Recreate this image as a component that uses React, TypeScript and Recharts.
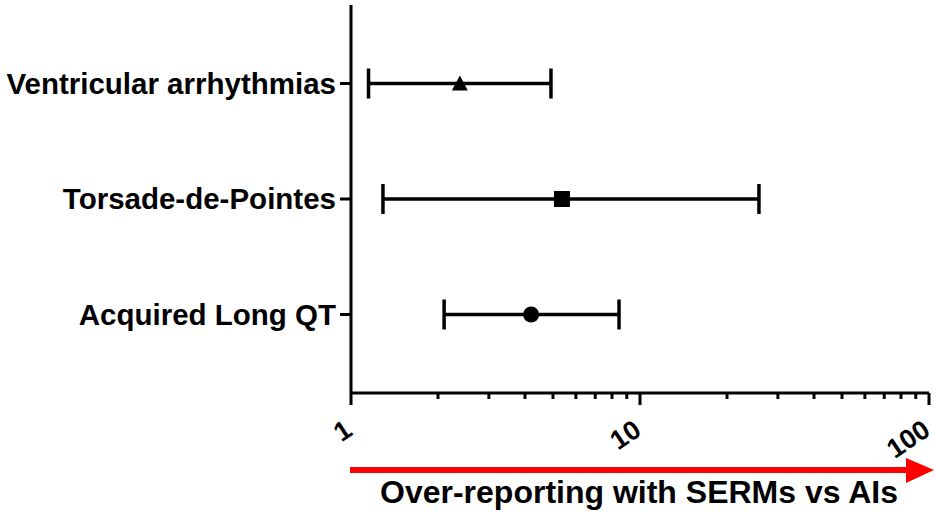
import React from "react";
import {
  ScatterChart,
  Scatter,
  XAxis,
  YAxis,
  ErrorBar,
} from "recharts";

// bottom to top
const categories = ["Acquired Long QT", "Torsade-de-Pointes", "Ventricular arrhythmias"];
const estimates = [4.2, 5.37, 2.38];
const lower = [2.1, 1.29, 1.15];
const upper = [8.46, 25.8, 4.92];

const majorTicks = [1, 10, 100];
const minorTicks = [2, 3, 4, 5, 6, 7, 8, 9, 20, 30, 40, 50, 60, 70, 80, 90];
const xTicks = [...majorTicks, ...minorTicks].sort((a, b) => a - b);

const FONT = "'Liberation Sans', Arial, sans-serif";

const rows = categories.map((name, i) => ({
  name,
  y: i + 1,
  x: estimates[i],
  err: [estimates[i] - lower[i], upper[i] - estimates[i]],
}));

const XTick = (props: any) => {
  const { x, y, payload } = props;
  const major = majorTicks.includes(payload.value);
  return (
    <g>
      <line x1={x} x2={x} y1={y} y2={y + (major ? 12 : 6)} stroke="#000" strokeWidth={3} />
      {major && (
        <text
          x={x + 3}
          y={y + 41}
          textAnchor="end"
          fontSize={27}
          fontWeight="bold"
          fontFamily={FONT}
          fill="#000"
          transform={`rotate(-34 ${x + 3} ${y + 41})`}
        >
          {payload.value}
        </text>
      )}
    </g>
  );
};

const Triangle = (p: any) => (
  <path d={`M${p.cx},${p.cy - 8} L${p.cx + 8},${p.cy + 7} L${p.cx - 8},${p.cy + 7} Z`} fill="#000" />
);
const Square = (p: any) => <rect x={p.cx - 8} y={p.cy - 8} width={16} height={16} fill="#000" />;
const Circle = (p: any) => <circle cx={p.cx} cy={p.cy} r={8} fill="#000" />;

const shapes = [Circle, Square, Triangle];

export default function App() {
  return (
    <div style={{ position: "absolute", left: 0, top: 0, width: 934, height: 515, background: "#fff" }}>
      <ScatterChart width={934} height={515} margin={{ top: 5, right: 5, bottom: 0, left: 0 }}>
        <XAxis
          type="number"
          dataKey="x"
          scale="log"
          domain={[1, 100]}
          allowDataOverflow
          ticks={xTicks}
          interval={0}
          height={122}
          tickSize={0}
          tickMargin={0}
          tickLine={false}
          tick={<XTick />}
          axisLine={{ stroke: "#000", strokeWidth: 3 }}
        />
        <YAxis
          type="number"
          dataKey="y"
          domain={[0.32, 3.68]}
          ticks={[1, 2, 3]}
          width={351}
          tickSize={11}
          tickMargin={4}
          tickFormatter={(v: number) => categories[v - 1]}
          tick={{ fill: "#000", fontSize: 29.5, fontWeight: "bold", fontFamily: FONT }}
          tickLine={{ stroke: "#000", strokeWidth: 3 }}
          axisLine={{ stroke: "#000", strokeWidth: 3 }}
        />
        {rows.map((r, i) => (
          <Scatter
            key={r.name}
            data={[r]}
            fill="#000"
            shape={shapes[i]}
            isAnimationActive={false}
          >
            <ErrorBar dataKey="err" direction="x" width={15} stroke="#000" strokeWidth={3.5} />
          </Scatter>
        ))}
      </ScatterChart>
      <svg
        width={934}
        height={515}
        style={{ position: "absolute", left: 0, top: 0, pointerEvents: "none" }}
      >
        <rect x={350} y={467} width={558} height={6} fill="#ff0000" />
        <polygon points="906,458 934,470 906,483" fill="#ff0000" />
        <text
          x={639}
          y={503}
          textAnchor="middle"
          fontSize={32}
          fontWeight="bold"
          fontFamily={FONT}
          fill="#000"
        >
          Over-reporting with SERMs vs AIs
        </text>
      </svg>
    </div>
  );
}
